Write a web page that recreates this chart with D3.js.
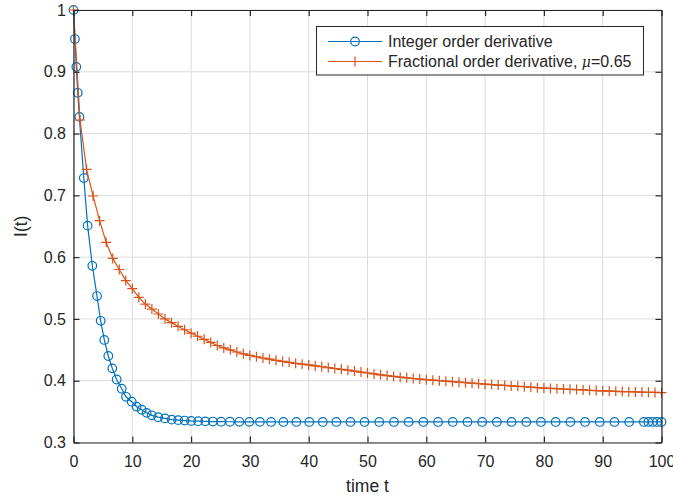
<!DOCTYPE html>
<html>
<head>
<meta charset="utf-8">
<script src="https://cdn.jsdelivr.net/npm/d3@7"></script>
<style>
  body { margin: 0; background: #fff; }
  svg { display: block; font-family: "Liberation Sans", Arial, sans-serif; }
</style>
</head>
<body>
<div id="chart"></div>
<script>
// integer order derivative (blue circles), adaptive solver steps
const intT = [0, 0.24, 0.48, 0.72, 1.0, 1.75, 2.4, 3.2, 4.0, 4.62, 5.24, 5.92, 6.6, 7.34, 8.2, 8.93,
  9.9, 10.74, 11.6, 12.44, 13.3, 14.4, 15.56, 16.7, 17.8, 18.9, 20.0, 21.2, 22.4, 23.7, 25.1, 26.6,
  28.2, 29.9, 31.7, 33.6, 35.7, 37.9, 40.1, 42.4, 44.7, 47.1, 49.5, 52.0, 54.5, 57.0, 59.5, 62.0,
  64.5, 67.0, 69.5, 72.0, 74.5, 77.0, 79.5, 82.0, 84.5, 87.0, 89.5, 92.0, 94.5, 97.0, 97.75, 98.5,
  99.25, 100];
const intI = [1.0, 0.953, 0.908, 0.866, 0.827, 0.728, 0.651, 0.586, 0.537, 0.497, 0.466, 0.440, 0.420,
  0.402, 0.387, 0.374, 0.366, 0.358, 0.353, 0.348, 0.344, 0.341, 0.339, 0.337, 0.3362, 0.3355, 0.3349,
  0.3345, 0.3342, 0.3339, 0.3337, 0.3336, 0.3335, 0.3334, 0.3334, 0.3333, 0.3333, 0.3333, 0.3333,
  0.3333, 0.3333, 0.3333, 0.3333, 0.3333, 0.3333, 0.3333, 0.3333, 0.3333, 0.3333, 0.3333, 0.3333,
  0.3333, 0.3333, 0.3333, 0.3333, 0.3333, 0.3333, 0.3333, 0.3333, 0.3333, 0.3333, 0.3333, 0.3333,
  0.3333, 0.3333, 0.3333];

// fractional order derivative (red crosses), mu = 0.65
const fracT = [0, 1.11, 2.22, 3.33, 4.44, 5.56, 6.67, 7.78, 8.89, 10.0, 11.11, 12.22, 13.33, 14.44,
  15.56, 16.67, 17.78, 18.89, 20.0, 21.11, 22.22, 23.33, 24.44, 25.56, 26.67, 27.78, 28.89, 30.0,
  31.11, 32.22, 33.33, 34.44, 35.56, 36.67, 37.78, 38.89, 40.0, 41.11, 42.22, 43.33, 44.44, 45.56,
  46.67, 47.78, 48.89, 50.0, 51.11, 52.22, 53.33, 54.44, 55.56, 56.67, 57.78, 58.89, 60.0, 61.11,
  62.22, 63.33, 64.44, 65.56, 66.67, 67.78, 68.89, 70.0, 71.11, 72.22, 73.33, 74.44, 75.56, 76.67,
  77.78, 78.89, 80.0, 81.11, 82.22, 83.33, 84.44, 85.56, 86.67, 87.78, 88.89, 90.0, 91.11, 92.22,
  93.33, 94.44, 95.56, 96.67, 97.78, 98.89, 100.0];
const fracI = [1.0, 0.822, 0.742, 0.699, 0.659, 0.624, 0.598, 0.580, 0.562, 0.549, 0.535, 0.524, 0.516,
  0.508, 0.500, 0.494, 0.488, 0.4825, 0.477, 0.472, 0.467, 0.462, 0.457, 0.453, 0.450, 0.4465, 0.4435,
  0.441, 0.4388, 0.4368, 0.4348, 0.433, 0.4313, 0.4297, 0.4282, 0.4268, 0.4255, 0.424, 0.4226, 0.4212,
  0.4198, 0.4184, 0.417, 0.4156, 0.414, 0.4125, 0.411, 0.4096, 0.4083, 0.407, 0.4058, 0.4047, 0.4036,
  0.4026, 0.4017, 0.4008, 0.4, 0.3992, 0.3984, 0.3976, 0.3968, 0.396, 0.3952, 0.3944, 0.3937, 0.393,
  0.3923, 0.3916, 0.3909, 0.3902, 0.3895, 0.3888, 0.3881, 0.3876, 0.3871, 0.3866, 0.3861, 0.3856,
  0.3851, 0.3846, 0.3841, 0.3837, 0.3833, 0.3829, 0.3825, 0.3822, 0.3819, 0.3816, 0.3813, 0.381, 0.3807];

const xTicks = [0, 10, 20, 30, 40, 50, 60, 70, 80, 90, 100];
const yTicks = [0.3, 0.4, 0.5, 0.6, 0.7, 0.8, 0.9, 1];
const legendLabels = ['Integer order derivative', 'Fractional order derivative, '];

const W = 673, H = 499;
const margin = { left: 73.5, right: 11.5, top: 10, bottom: 56.5 };
const blue = '#0072BD', red = '#D95319', axisCol = '#262626', gridCol = '#dcdcdc';
const tickFont = '16px', labelFont = '17.5px', legendFont = '16px';

const svg = d3.select('#chart').append('svg')
  .attr('width', W)
  .attr('height', H);

const x = d3.scaleLinear().domain([0, 100]).range([margin.left, W - margin.right]);
const y = d3.scaleLinear().domain([0.3, 1]).range([H - margin.bottom, margin.top]);

// grid
svg.append('g').selectAll('line').data(xTicks).enter().append('line')
  .attr('x1', d => x(d)).attr('x2', d => x(d))
  .attr('y1', y(0.3)).attr('y2', y(1))
  .attr('stroke', gridCol).attr('stroke-width', 1);
svg.append('g').selectAll('line').data(yTicks).enter().append('line')
  .attr('x1', x(0)).attr('x2', x(100))
  .attr('y1', d => y(d)).attr('y2', d => y(d))
  .attr('stroke', gridCol).attr('stroke-width', 1);

// curves
const intData = intT.map((t, i) => [t, intI[i]]);
const fracData = fracT.map((t, i) => [t, fracI[i]]);
const line = d3.line().x(d => x(d[0])).y(d => y(d[1]));

svg.append('path').datum(intData)
  .attr('d', line).attr('fill', 'none').attr('stroke', blue).attr('stroke-width', 1.2);
svg.append('g').selectAll('circle').data(intData).enter().append('circle')
  .attr('cx', d => x(d[0])).attr('cy', d => y(d[1])).attr('r', 4.3)
  .attr('fill', 'none').attr('stroke', blue).attr('stroke-width', 1.2);

svg.append('path').datum(fracData)
  .attr('d', line).attr('fill', 'none').attr('stroke', red).attr('stroke-width', 1.2);
svg.append('g').selectAll('path').data(fracData).enter().append('path')
  .attr('d', d => {
    const cx = x(d[0]), cy = y(d[1]), s = 5;
    return `M${cx - s},${cy}H${cx + s}M${cx},${cy - s}V${cy + s}`;
  })
  .attr('fill', 'none').attr('stroke', red).attr('stroke-width', 1.2);

// axes (box with inward ticks)
const xAxisB = d3.axisBottom(x).tickValues(xTicks).tickSizeInner(-6).tickSizeOuter(0).tickPadding(13);
const xAxisT = d3.axisTop(x).tickValues(xTicks).tickSizeInner(-6).tickSizeOuter(0).tickFormat('');
const yAxisL = d3.axisLeft(y).tickValues(yTicks).tickSizeInner(-6).tickSizeOuter(0).tickPadding(7.5)
  .tickFormat(d3.format('~g'));
const yAxisR = d3.axisRight(y).tickValues(yTicks).tickSizeInner(-6).tickSizeOuter(0).tickFormat('');

function styleAxis(g) {
  g.select('.domain').attr('stroke', axisCol).attr('stroke-width', 1.2);
  g.selectAll('.tick line').attr('stroke', axisCol).attr('stroke-width', 1.2);
  g.selectAll('.tick text').attr('fill', axisCol).style('font-size', tickFont)
    .style('font-family', '"Liberation Sans", Arial, sans-serif');
}

svg.append('g').attr('transform', `translate(0,${y(0.3)})`).call(xAxisB).call(styleAxis);
svg.append('g').attr('transform', `translate(0,${y(1)})`).call(xAxisT).call(styleAxis);
svg.append('g').attr('transform', `translate(${x(0)},0)`).call(yAxisL).call(styleAxis);
svg.append('g').attr('transform', `translate(${x(100)},0)`).call(yAxisR).call(styleAxis);

// axis labels
svg.append('text')
  .attr('x', x(50)).attr('y', 492)
  .attr('text-anchor', 'middle').attr('fill', axisCol).style('font-size', labelFont)
  .text('time t');
svg.append('text')
  .attr('transform', `translate(27,${y(0.65)}) rotate(-90)`)
  .attr('text-anchor', 'middle').attr('fill', axisCol).style('font-size', labelFont)
  .text('I(t)');

// legend
const leg = svg.append('g');
leg.append('rect')
  .attr('x', 316.5).attr('y', 26.5).attr('width', 327).attr('height', 48.5)
  .attr('fill', '#fff').attr('stroke', axisCol).attr('stroke-width', 1);

const legRows = [
  { label: legendLabels[0], color: blue, marker: 'circle', yy: 41.5 },
  { label: legendLabels[1], color: red, marker: 'cross', yy: 61.5 }
];
legRows.forEach(r => {
  leg.append('line')
    .attr('x1', 328).attr('x2', 382).attr('y1', r.yy).attr('y2', r.yy)
    .attr('stroke', r.color).attr('stroke-width', 1.2);
  if (r.marker === 'circle') {
    leg.append('circle').attr('cx', 355).attr('cy', r.yy).attr('r', 4.3)
      .attr('fill', 'none').attr('stroke', r.color).attr('stroke-width', 1.2);
  } else {
    leg.append('path')
      .attr('d', `M350,${r.yy}H360M355,${r.yy - 5}V${r.yy + 5}`)
      .attr('fill', 'none').attr('stroke', r.color).attr('stroke-width', 1.2);
  }
  const t = leg.append('text')
    .attr('x', 388).attr('y', r.yy + 5.5)
    .attr('fill', axisCol).style('font-size', legendFont)
    .text(r.label);
  if (r.marker === 'cross') {
    t.append('tspan').style('font-family', '"DejaVu Serif", serif').style('font-style', 'italic')
      .style('font-size', '14px').text('\u03bc');
    t.append('tspan').text('=0.65');
  }
});
</script>
</body>
</html>
